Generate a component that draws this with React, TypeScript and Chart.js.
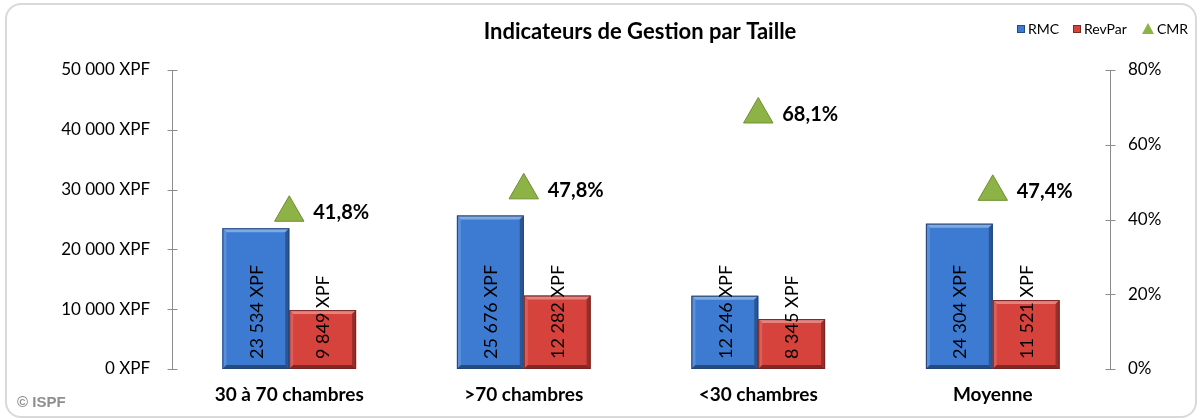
import React, { useEffect, useRef } from "react";
import { Chart, registerables } from "chart.js";

Chart.register(...registerables);

const categories = ["30 à 70 chambres", ">70 chambres", "<30 chambres", "Moyenne"];
const rmcValues = [23534, 25676, 12246, 24304];
const revparValues = [9849, 12282, 8345, 11521];
const cmrValues = [41.8, 47.8, 68.1, 47.4];
const seriesNames = ["RMC", "RevPar", "CMR"];
const titleText = "Indicateurs de Gestion par Taille";
const leftTicks = [0, 10000, 20000, 30000, 40000, 50000];
const rightTicks = [0, 20, 40, 60, 80];
const sourceText = "© ISPF";

const BLUE = "#3D7BD2";
const RED = "#D6423C";
const GREEN = "#8DB246";
const FONT = "Lato, 'Open Sans', sans-serif";

const fmtXPF = (v: number) =>
  String(Math.round(v)).replace(/\B(?=(\d{3})+(?!\d))/g, " ") + " XPF";
const fmtPct = (v: number) => v.toFixed(1).replace(".", ",") + "%";

function shade(hex: string, amt: number) {
  const n = parseInt(hex.slice(1), 16);
  let r = (n >> 16) & 255, g = (n >> 8) & 255, b = n & 255;
  const f = (c: number) => Math.max(0, Math.min(255, Math.round(amt > 0 ? c + (255 - c) * amt : c * (1 + amt))));
  return `rgb(${f(r)},${f(g)},${f(b)})`;
}

const decorPlugin = {
  id: "decor",
  beforeDraw(chart: any) {
    const ctx = chart.ctx;
    ctx.save();
    ctx.fillStyle = "#fff";
    ctx.fillRect(0, 0, chart.width, chart.height);
    ctx.strokeStyle = "#d9d9d9";
    ctx.lineWidth = 2;
    ctx.beginPath();
    ctx.roundRect(6, 4, 1190, 413, 15);
    ctx.stroke();
    ctx.restore();
  },
  afterDatasetsDraw(chart: any) {
    const ctx = chart.ctx;
    ctx.save();
    [0, 1].forEach((di) => {
      const meta = chart.getDatasetMeta(di);
      const base = di === 0 ? BLUE : RED;
      meta.data.forEach((el: any, i: number) => {
        const { x, y, base: b, width } = el.getProps(["x", "y", "base", "width"], true);
        const l = x - width / 2, r = x + width / 2;
        const bv = 4;
        ctx.fillStyle = shade(base, 0.35);
        ctx.beginPath();
        ctx.moveTo(l, y); ctx.lineTo(r, y); ctx.lineTo(r - bv, y + bv); ctx.lineTo(l + bv, y + bv); ctx.closePath(); ctx.fill();
        ctx.fillStyle = shade(base, 0.15);
        ctx.beginPath();
        ctx.moveTo(l, y); ctx.lineTo(l + bv, y + bv); ctx.lineTo(l + bv, b - bv); ctx.lineTo(l, b); ctx.closePath(); ctx.fill();
        ctx.fillStyle = shade(base, -0.3);
        ctx.beginPath();
        ctx.moveTo(r, y); ctx.lineTo(r, b); ctx.lineTo(r - bv, b - bv); ctx.lineTo(r - bv, y + bv); ctx.closePath(); ctx.fill();
        ctx.fillStyle = shade(base, -0.4);
        ctx.beginPath();
        ctx.moveTo(l, b); ctx.lineTo(r, b); ctx.lineTo(r - bv, b - bv); ctx.lineTo(l + bv, b - bv); ctx.closePath(); ctx.fill();
        ctx.strokeStyle = shade(base, -0.45);
        ctx.lineWidth = 1;
        ctx.strokeRect(l + 0.5, y + 0.5, width - 1, b - y - 1);
        const v = chart.data.datasets[di].data[i];
        ctx.save();
        ctx.translate(x + 1, b - 10);
        ctx.rotate(-Math.PI / 2);
        ctx.fillStyle = "#000";
        ctx.font = `18px ${FONT}`;
        ctx.textAlign = "left";
        ctx.textBaseline = "middle";
        ctx.fillText(fmtXPF(v), 0, 0);
        ctx.restore();
      });
    });
    const meta2 = chart.getDatasetMeta(2);
    ctx.fillStyle = "#000";
    ctx.font = `bold 20px ${FONT}`;
    ctx.textAlign = "left";
    ctx.textBaseline = "middle";
    meta2.data.forEach((el: any, i: number) => {
      ctx.fillText(fmtPct(chart.data.datasets[2].data[i]), el.x + 24, el.y);
    });
    ctx.restore();
  },
  afterDraw(chart: any) {
    const ctx = chart.ctx;
    const ca = chart.chartArea;
    const yScale = chart.scales.y;
    const y1Scale = chart.scales.y1;
    ctx.save();
    ctx.strokeStyle = "#8c8c8c";
    ctx.lineWidth = 1;
    const lx = Math.round(ca.left) + 0.5;
    ctx.beginPath();
    ctx.moveTo(lx, yScale.getPixelForValue(50000));
    ctx.lineTo(lx, yScale.getPixelForValue(0));
    leftTicks.forEach((t) => {
      const py = Math.round(yScale.getPixelForValue(t)) + 0.5;
      ctx.moveTo(lx - 5, py);
      ctx.lineTo(lx + 5, py);
    });
    const rx = Math.round(ca.right) + 0.5;
    ctx.moveTo(rx, y1Scale.getPixelForValue(80));
    ctx.lineTo(rx, y1Scale.getPixelForValue(0));
    rightTicks.forEach((t) => {
      const py = Math.round(y1Scale.getPixelForValue(t)) + 0.5;
      ctx.moveTo(rx - 5, py);
      ctx.lineTo(rx + 5, py);
    });
    ctx.stroke();

    ctx.fillStyle = "#000";
    ctx.font = `bold 22px ${FONT}`;
    ctx.textAlign = "center";
    ctx.textBaseline = "middle";
    ctx.fillText(titleText, 640, 32);

    ctx.font = `14px ${FONT}`;
    ctx.textAlign = "left";
    const ly = 29;
    const items = [
      { x: 1017, c: BLUE, t: seriesNames[0], shape: "sq" },
      { x: 1073, c: RED, t: seriesNames[1], shape: "sq" },
      { x: 1143, c: GREEN, t: seriesNames[2], shape: "tri" },
    ];
    items.forEach((it) => {
      ctx.fillStyle = it.c;
      if (it.shape === "sq") {
        ctx.fillRect(it.x, ly - 4, 8, 8);
        ctx.strokeStyle = shade(it.c, -0.4);
        ctx.strokeRect(it.x + 0.5, ly - 3.5, 7, 7);
      } else {
        ctx.beginPath();
        ctx.moveTo(it.x + 5, ly - 6);
        ctx.lineTo(it.x + 11, ly + 5);
        ctx.lineTo(it.x - 1, ly + 5);
        ctx.closePath();
        ctx.fill();
      }
      ctx.fillStyle = "#000";
      ctx.fillText(it.t, it.x + (it.shape === "sq" ? 11 : 14), ly);
    });

    ctx.fillStyle = "#8f8f8f";
    ctx.font = "bold 15px 'Liberation Sans', Arial, sans-serif";
    ctx.textAlign = "left";
    ctx.textBaseline = "middle";
    ctx.fillText(sourceText, 17, 403);
    ctx.restore();
  },
};

export default function App() {
  const ref = useRef<HTMLCanvasElement | null>(null);
  useEffect(() => {
    document.body.style.margin = "0";
    const canvas = ref.current;
    if (!canvas) return;
    const chart = new Chart(canvas, {
      type: "bar",
      data: {
        labels: categories,
        datasets: [
          {
            label: seriesNames[0],
            data: rmcValues,
            backgroundColor: BLUE,
            borderWidth: 0,
            yAxisID: "y",
            categoryPercentage: 0.57,
            barPercentage: 1,
            order: 2,
          },
          {
            label: seriesNames[1],
            data: revparValues,
            backgroundColor: RED,
            borderWidth: 0,
            yAxisID: "y",
            categoryPercentage: 0.57,
            barPercentage: 1,
            order: 2,
          },
          {
            type: "line",
            label: seriesNames[2],
            data: cmrValues,
            yAxisID: "y1",
            showLine: false,
            pointStyle: "triangle",
            pointRadius: 17,
            pointHoverRadius: 17,
            pointBackgroundColor: GREEN,
            pointBorderColor: "#6F9130",
            pointBorderWidth: 1,
            order: 1,
          } as any,
        ],
      },
      options: {
        responsive: false,
        animation: false,
        events: [],
        layout: { padding: { top: 70, left: 0, right: 0, bottom: 0 } },
        plugins: {
          legend: { display: false },
          title: { display: false },
          tooltip: { enabled: false },
        },
        scales: {
          x: {
            grid: { display: false, drawTicks: false, tickLength: 0 },
            border: { display: false },
            ticks: {
              color: "#000",
              font: { family: FONT, size: 19, weight: "bold" },
              padding: 14,
              maxRotation: 0,
            },
            afterFit: (s: any) => {
              s.height = 50;
            },
          },
          y: {
            position: "left",
            min: 0,
            max: 50000,
            grid: { display: false, drawTicks: false, tickLength: 0 },
            border: { display: false },
            ticks: {
              stepSize: 10000,
              color: "#000",
              font: { family: FONT, size: 17 },
              padding: 22,
              callback: (v: any) => fmtXPF(Number(v)),
            },
            afterFit: (s: any) => {
              s.width = 172;
            },
          },
          y1: {
            position: "right",
            min: 0,
            max: 80,
            grid: { display: false, drawTicks: false, tickLength: 0 },
            border: { display: false },
            ticks: {
              stepSize: 20,
              color: "#000",
              font: { family: FONT, size: 17 },
              padding: 18,
              callback: (v: any) => `${v}%`,
            },
            afterFit: (s: any) => {
              s.width = 90;
            },
          },
        },
      },
      plugins: [decorPlugin],
    });
    return () => chart.destroy();
  }, []);
  return (
    <div style={{ width: 1200, height: 419 }}>
      <canvas ref={ref} width={1200} height={419} style={{ display: "block" }} />
    </div>
  );
}
